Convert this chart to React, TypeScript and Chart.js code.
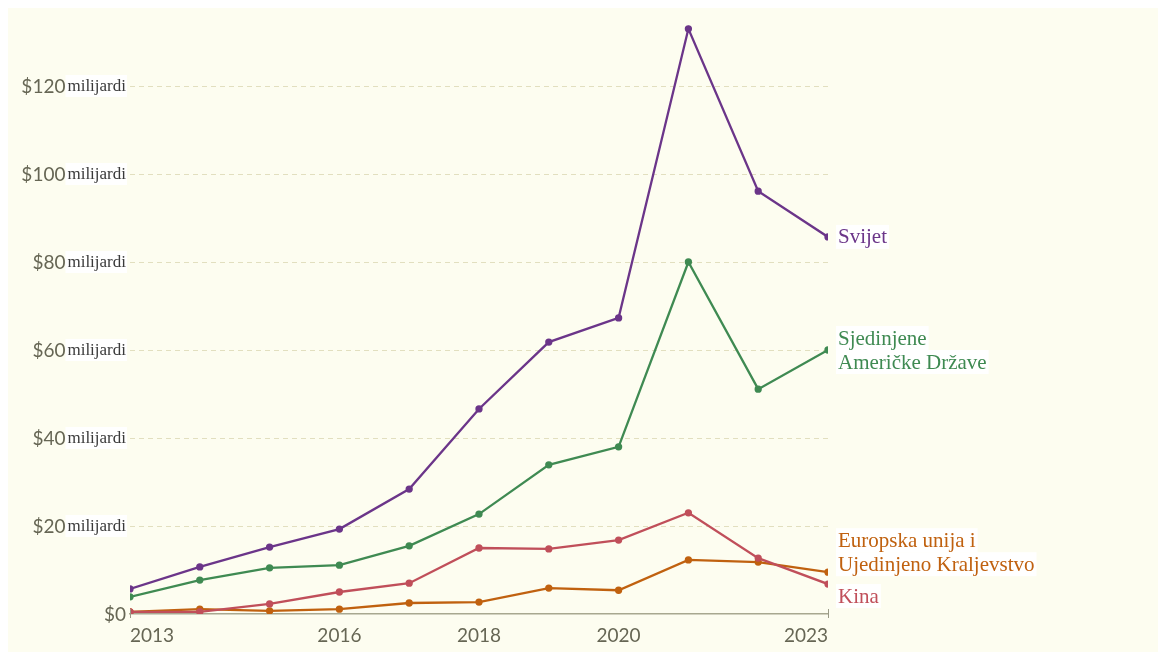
import React, { useEffect, useRef } from "react";
import { Chart, registerables } from "chart.js";

Chart.register(...registerables);

const years = [2013, 2014, 2015, 2016, 2017, 2018, 2019, 2020, 2021, 2022, 2023];
const xTickYears = [2013, 2016, 2018, 2020, 2023];
const yTickValues = [0, 20, 40, 60, 80, 100, 120];

const svijet = [5.7, 10.7, 15.2, 19.3, 28.4, 46.6, 61.8, 67.3, 133, 96.1, 85.7];
const sad = [3.9, 7.7, 10.5, 11.1, 15.5, 22.7, 33.9, 38.0, 80.0, 51.1, 60.0];
const kina = [0.5, 0.5, 2.3, 5.0, 7.0, 15.0, 14.8, 16.8, 23.0, 12.7, 6.8];
const euUk = [0.5, 1.1, 0.7, 1.1, 2.5, 2.7, 5.9, 5.4, 12.3, 11.8, 9.5];

const seriesNames = ["Svijet", "Sjedinjene\nAmeričke Države", "Kina", "Europska unija i\nUjedinjeno Kraljevstvo"];
const seriesColors = ["#6b3589", "#3f8a52", "#c04f5a", "#c0610f"];
const labelShift = [0, 0, 12, -20];

const BG = "#fdfdf0";
const TICK_COLOR = "#666654";

export default function App() {
  const ref = useRef<HTMLCanvasElement | null>(null);
  useEffect(() => {
    if (!ref.current) return;
    const series = [svijet, sad, kina, euUk];
    const datasets = series.map((vals, i) => ({
      label: seriesNames[i],
      data: vals.map((v, j) => ({ x: years[j], y: v })),
      borderColor: seriesColors[i],
      backgroundColor: seriesColors[i],
      borderWidth: 2.3,
      pointRadius: 2.5,
      pointHoverRadius: 2.5,
      tension: 0,
    }));
    const bgPlugin = {
      id: "bg",
      beforeDraw(chart: any) {
        const ctx = chart.ctx;
        ctx.save();
        ctx.fillStyle = BG;
        ctx.fillRect(0, 0, chart.width, chart.height);
        ctx.restore();
      },
    };
    const labelsPlugin = {
      id: "labels",
      afterDraw(chart: any) {
        const ctx = chart.ctx;
        const ys = chart.scales.y;
        const xs = chart.scales.x;
        const area = chart.chartArea;
        ctx.save();
        // y tick labels
        yTickValues.forEach((v) => {
          const py = ys.getPixelForValue(v);
          let right = area.left - 4;
          if (v !== 0) {
            ctx.font = "17px 'Liberation Serif', serif";
            const w = ctx.measureText("milijardi").width;
            ctx.fillStyle = "#ffffff";
            ctx.fillRect(right - w - 2, py - 11, w + 3, 22);
            ctx.fillStyle = "#3a3a3a";
            ctx.textAlign = "right";
            ctx.textBaseline = "middle";
            ctx.fillText("milijardi", right, py + 1);
            right = right - w - 2;
          }
          ctx.font = "19px Lato, sans-serif";
          ctx.fillStyle = TICK_COLOR;
          ctx.textAlign = "right";
          ctx.textBaseline = "middle";
          ctx.fillText("$" + v, right, py + 1);
        });
        // series labels
        chart.data.datasets.forEach((ds: any, i: number) => {
          const meta = chart.getDatasetMeta(i);
          const pt = meta.data[meta.data.length - 1];
          const lines = String(ds.label).split("\n");
          const lh = 24;
          ctx.font = "21px 'Liberation Serif', serif";
          const x0 = pt.x + 10;
          const yc = pt.y + labelShift[i];
          const top = yc - ((lines.length - 1) * lh) / 2;
          lines.forEach((ln: string, k: number) => {
            const w = ctx.measureText(ln).width;
            ctx.fillStyle = "#ffffff";
            ctx.fillRect(x0 - 2, top + k * lh - 12, w + 4, 24);
          });
          lines.forEach((ln: string, k: number) => {
            ctx.fillStyle = seriesColors[i];
            ctx.textAlign = "left";
            ctx.textBaseline = "middle";
            ctx.fillText(ln, x0, top + k * lh + 1);
          });
        });
        // x tick marks
        ctx.strokeStyle = "#9a9a86";
        ctx.lineWidth = 1;
        [2013, 2023].forEach((yr) => {
          const px = Math.round(xs.getPixelForValue(yr)) + 0.5;
          ctx.beginPath();
          ctx.moveTo(px, area.bottom - 5);
          ctx.lineTo(px, area.bottom + 4);
          ctx.stroke();
        });
        ctx.restore();
      },
    };
    const chart = new Chart(ref.current, {
      type: "line",
      data: { datasets },
      plugins: [bgPlugin, labelsPlugin],
      options: {
        animation: false,
        responsive: false,
        maintainAspectRatio: false,
        layout: { padding: { left: 0, right: 330, top: 12, bottom: 2 } },
        plugins: { legend: { display: false }, tooltip: { enabled: false } },
        scales: {
          x: {
            type: "linear",
            min: 2013,
            max: 2023,
            afterBuildTicks: (s: any) => {
              s.ticks = xTickYears.map((v) => ({ value: v }));
            },
            afterFit: (s: any) => {
              s.height = 36;
            },
            ticks: {
              callback: (v: any) => String(v),
              color: TICK_COLOR,
              font: { family: "Lato, sans-serif", size: 19 },
              padding: 10,
              maxRotation: 0,
              align: "inner",
            },
            grid: { display: false, drawTicks: false },
            border: { display: true, color: "#a8a890", width: 1.5 },
          },
          y: {
            min: 0,
            max: 135,
            afterBuildTicks: (s: any) => {
              s.ticks = yTickValues.map((v) => ({ value: v }));
            },
            afterFit: (s: any) => {
              s.width = 122;
            },
            ticks: { display: false },
            grid: {
              color: (c: any) => (c.tick && c.tick.value === 0 ? "rgba(0,0,0,0)" : "#e2dfbf"),
              drawTicks: false,
            },
            border: { display: false, dash: [5, 4] },
          },
        },
      },
    });
    return () => chart.destroy();
  }, []);
  return <canvas ref={ref} width={1150} height={644} style={{ display: "block" }} />;
}
